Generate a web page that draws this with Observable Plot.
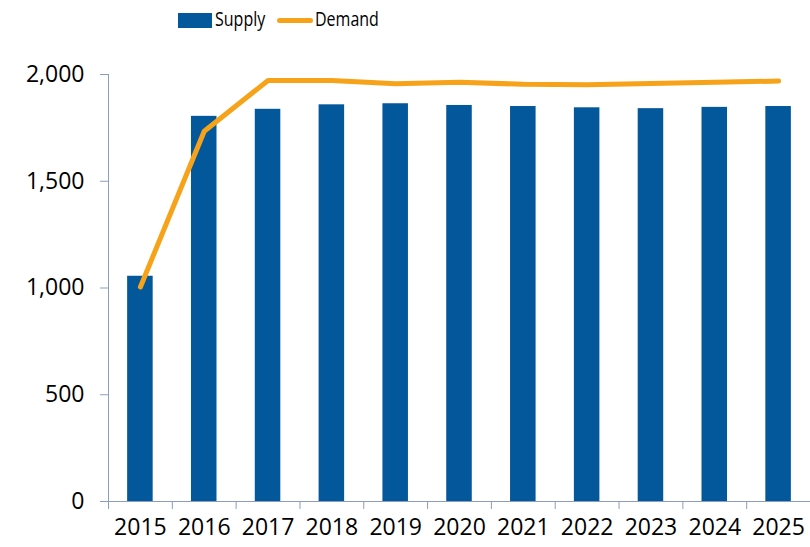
<!DOCTYPE html>
<html>
<head>
<meta charset="utf-8">
<script src="https://cdn.jsdelivr.net/npm/d3@7"></script>
<script src="https://cdn.jsdelivr.net/npm/@observablehq/plot@0.6"></script>
<style>
  html, body { margin: 0; padding: 0; background: #fff; }
  body { width: 810px; height: 547px; overflow: hidden; font-family: "Open Sans", sans-serif; }
  #legend { position: relative; height: 40px; font-size: 20px; color: #000; }
  #legend .sw-bar { position: absolute; left: 178px; top: 13px; width: 34px; height: 15px; background: #03579b; }
  #legend .sw-line { position: absolute; left: 277px; top: 18px; width: 36px; height: 5px; border-radius: 3px; background: #f6a31a; }
  #legend .lab { position: absolute; top: 5px; line-height: 28px; transform: scaleX(0.8); transform-origin: left center; white-space: nowrap; }
  #chart svg text { fill: #000; }
</style>
</head>
<body>
<div id="legend">
  <div class="sw-bar"></div><span class="lab" style="left:215px">Supply</span>
  <div class="sw-line"></div><span class="lab" style="left:315px">Demand</span>
</div>
<div id="chart"></div>
<script>
const years = ["2015","2016","2017","2018","2019","2020","2021","2022","2023","2024","2025"];
const supply = [1055, 1804, 1837, 1858, 1863, 1855, 1850, 1844, 1840, 1846, 1850];
const demand = [1005, 1734, 1972, 1972, 1957, 1964, 1954, 1952, 1958, 1964, 1969];
const yTicks = [0, 500, 1000, 1500, 2000];

const data = years.map((y, i) => ({year: y, supply: supply[i], demand: demand[i]}));

const W = 810, H = 507, ML = 108, MR = 0;
const step = (W - ML - MR) / years.length;
const axisColor = "#8c9cc0";

const chart = Plot.plot({
  width: W,
  height: H,
  marginLeft: ML,
  marginRight: MR,
  marginTop: 34,
  marginBottom: 46,
  style: {fontFamily: "'Open Sans', sans-serif", fontSize: "23px", color: axisColor, background: "#fff", overflow: "visible"},
  x: {domain: years, paddingInner: 0.6, paddingOuter: 0.3, round: false, line: true, tickSize: 0, tickPadding: 17, label: null},
  y: {domain: [0, 2000], ticks: yTicks, tickFormat: d3.format(",d"), line: true, tickSize: 8, tickPadding: 16, label: null},
  marks: [
    Plot.barY(data, {x: "year", y: "supply", fill: "#03579b"}),
    Plot.ruleX(years, {x: d => d, dx: -step / 2, y1: 0, y2: 0, insetBottom: -8, stroke: axisColor, strokeWidth: 1}),
    Plot.line(data, {x: "year", y: "demand", stroke: "#f6a31a", strokeWidth: 5, strokeLinecap: "round", strokeLinejoin: "round"})
  ]
});
document.getElementById("chart").appendChild(chart);
</script>
</body>
</html>
